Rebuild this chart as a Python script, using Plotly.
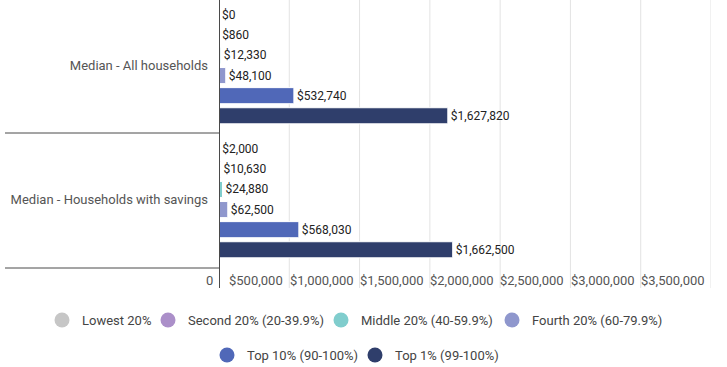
import plotly.graph_objects as go

categories = ["Median - All households", "Median - Households with savings"]
series_names = ["Lowest 20%", "Second 20% (20-39.9%)", "Middle 20% (40-59.9%)",
                "Fourth 20% (60-79.9%)", "Top 10% (90-100%)", "Top 1% (99-100%)"]
lowest = [0, 2000]
second = [860, 10630]
middle = [12330, 24880]
fourth = [48100, 62500]
top10 = [532740, 568030]
top1 = [1627820, 1662500]
tick_values = [0, 500000, 1000000, 1500000, 2000000, 2500000, 3000000, 3500000]
tick_labels = ["0", "$500,000", "$1,000,000", "$1,500,000", "$2,000,000",
               "$2,500,000", "$3,000,000", "$3,500,000"]

series_values = [lowest, second, middle, fourth, top10, top1]
colors = ["#c6c6c6", "#ab8fc9", "#80cdcd", "#8f97cd", "#5068b8", "#2f3e6b"]

FONT = "Roboto, Arial, sans-serif"
W, H = 727, 367
ML, MR, MT, MB = 219, 16, 0, 99
plot_h = H - MT - MB

# legend item placement (pixel centre of the circle, pixel row)
legend_pos = [(62, 320), (168, 320), (341, 320), (512, 320), (227, 355), (375, 355)]


def py(px):
    """pixel row -> paper y"""
    return 1 - (px - MT) / plot_h


fig = go.Figure()
for name, vals, col in zip(series_names, series_values, colors):
    fig.add_trace(go.Bar(
        y=categories, x=vals, orientation="h", name=name,
        marker=dict(color=col, line=dict(color="white", width=1)),
        text=[f"${v:,}" for v in vals], textposition="outside",
        textfont=dict(family=FONT, size=12, color="#222222"),
        cliponaxis=False, showlegend=False, hoverinfo="skip",
    ))

legend_layouts = {}
for i, (name, col) in enumerate(zip(series_names, colors)):
    lname = "legend" if i == 0 else f"legend{i + 1}"
    fig.add_trace(go.Scatter(
        x=[None], y=[None], mode="markers", name=name,
        marker=dict(color=col, size=15, symbol="circle"),
        legend=lname, hoverinfo="skip",
    ))
    cx, cy = legend_pos[i]
    legend_layouts[lname] = dict(
        orientation="h", xref="container", yref="container",
        x=(cx - 20) / W, xanchor="left", y=1 - cy / H, yanchor="middle",
        font=dict(family=FONT, size=13, color="#444444"),
        bgcolor="rgba(0,0,0,0)", borderwidth=0, itemclick=False,
        itemdoubleclick=False,
    )

shapes = []
for tv in tick_values[1:]:
    shapes.append(dict(type="line", xref="x", yref="paper", x0=tv, x1=tv,
                       y0=1, y1=py(288), line=dict(color="#e3e3e3", width=1),
                       layer="below"))
shapes.append(dict(type="line", xref="x", yref="paper", x0=0, x1=0,
                   y0=1, y1=py(288), line=dict(color="#4a4a4a", width=2)))
for yy in [133, 268]:
    shapes.append(dict(type="line", xref="paper", yref="paper",
                       x0=(5 - ML) / (W - ML - MR), x1=0, y0=py(yy), y1=py(yy),
                       line=dict(color="#4a4a4a", width=1)))

annotations = []
for tv, tl in zip(tick_values, tick_labels):
    annotations.append(dict(x=tv, xref="x", y=py(280), yref="paper",
                            text=tl, showarrow=False, xanchor="right",
                            yanchor="middle", xshift=-4,
                            font=dict(family=FONT, size=13, color="#555555")))

fig.update_layout(
    width=W, height=H,
    margin=dict(l=ML, r=MR, t=MT, b=MB, autoexpand=False),
    paper_bgcolor="white", plot_bgcolor="white",
    barmode="group", bargap=0.1, bargroupgap=0.2,
    font=dict(family=FONT, color="#333333"),
    xaxis=dict(range=[0, 3500000], showgrid=False, zeroline=False,
               showticklabels=False, showline=False, fixedrange=True,
               automargin=False),
    yaxis=dict(range=[1.511, -0.489], showgrid=False, zeroline=False,
               showline=False, ticks="", ticklabelstandoff=10,
               automargin=False, fixedrange=True,
               tickfont=dict(family=FONT, size=13, color="#555555")),
    shapes=shapes, annotations=annotations,
    **legend_layouts,
)

fig.write_html("out.html", config={"displayModeBar": False},
               post_script="document.body.style.margin='0';")
